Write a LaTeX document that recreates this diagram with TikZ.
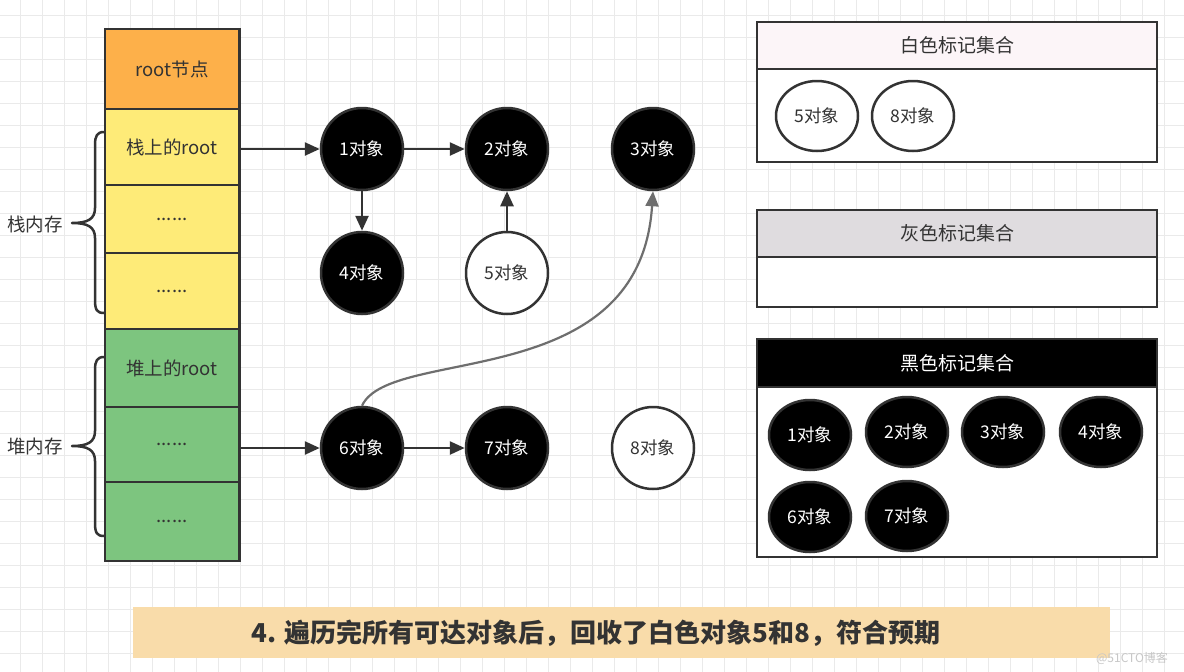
\documentclass[tikz,border=0pt]{standalone}
\usepackage{fontspec}
\setmainfont{Noto Sans CJK SC}
\usetikzlibrary{arrows.meta,shapes.geometric}
\definecolor{ln}{HTML}{333333}
\definecolor{gridc}{HTML}{EAEAEA}
\definecolor{orangec}{HTML}{FDB04A}
\definecolor{yellowc}{HTML}{FEEB78}
\definecolor{greenc}{HTML}{7DC57F}
\definecolor{bannerc}{HTML}{F9DCAA}
\definecolor{pinkc}{HTML}{FCF5F8}
\definecolor{grayh}{HTML}{DFDCDF}
\definecolor{curvec}{HTML}{6E6E6E}
\tikzset{
  gridline/.style={gridc, line width=1pt},
  cell/.style={draw=ln, line width=2.5pt, minimum width=134.5pt, inner sep=0pt, text=ln, font=\fontsize{18.5}{22}\selectfont},
  objb/.style={circle, draw=ln, line width=2.5pt, fill=black, text=white, minimum size=82pt, inner sep=0pt, font=\fontsize{17.5}{20}\selectfont},
  objw/.style={circle, draw=ln, line width=2.5pt, fill=white, text=ln, minimum size=82pt, inner sep=0pt, font=\fontsize{17.5}{20}\selectfont},
  elb/.style={ellipse, draw=ln, line width=2.5pt, fill=black, text=white, minimum width=82pt, minimum height=70pt, inner sep=0pt, font=\fontsize{17.5}{20}\selectfont},
  elw/.style={ellipse, draw=ln, line width=2.5pt, fill=white, text=ln, minimum width=82pt, minimum height=70pt, inner sep=0pt, font=\fontsize{17.5}{20}\selectfont},
  setbox/.style={draw=ln, line width=2.5pt, minimum width=400pt, inner sep=0pt, font=\fontsize{19}{22}\selectfont},
  arr/.style={draw=ln, line width=2.5pt, -{Triangle[length=15pt,width=13pt]}},
  bracec/.style={draw=ln, line width=2.5pt, line cap=round, line join=round},
  lbl/.style={text=ln, inner sep=0pt, font=\fontsize{18.5}{22}\selectfont},
}
\begin{document}
\begin{tikzpicture}[x=1pt,y=-1pt]
\useasboundingbox (0,0) rectangle (1184,672);
\fill[white] (0,0) rectangle (1184,672);
% grid
\foreach \gx in {-2,20,...,1190} \draw[gridline] (\gx,0) -- (\gx,672);
\foreach \gy in {15,37,...,672} \draw[gridline] (0,\gy) -- (1184,\gy);

% memory column
\node[cell, fill=orangec, minimum height=80pt] (r0) at (172,69) {root节点};
\node[cell, fill=yellowc, minimum height=76pt] (r1) at (172,147) {栈上的root};
\node[cell, fill=yellowc, minimum height=68pt] (r2) at (172,219) {......};
\node[cell, fill=yellowc, minimum height=76pt] (r3) at (172,291) {......};
\node[cell, fill=greenc, minimum height=78pt] (r4) at (172,368) {堆上的root};
\node[cell, fill=greenc, minimum height=75pt] (r5) at (172,444.5) {......};
\node[cell, fill=greenc, minimum height=79pt] (r6) at (172,521.5) {......};

% braces
\draw[bracec] (104,132) .. controls (97,132) and (95,136) .. (95,145) -- (95,208) .. controls (95,219) and (88,223) .. (72,223) .. controls (88,223) and (95,227) .. (95,238) -- (95,300) .. controls (95,310) and (97,313) .. (104,313);
\draw[bracec] (104,357) .. controls (97,357) and (95,361) .. (95,370) -- (95,431) .. controls (95,442) and (88,446) .. (72,446) .. controls (88,446) and (95,450) .. (95,461) -- (95,523) .. controls (95,533) and (97,536) .. (104,536);
\node[lbl] (sl) at (35,224) {栈内存};
\node[lbl] (hl) at (35,446) {堆内存};

% objects
\node[objb] (o1) at (362,149) {1对象};
\node[objb] (o2) at (507,149) {2对象};
\node[objb] (o3) at (653,149) {3对象};
\node[objb] (o4) at (362,273) {4对象};
\node[objw] (o5) at (507,273) {5对象};
\node[objb] (o6) at (362,448) {6对象};
\node[objb] (o7) at (507,448) {7对象};
\node[objw] (o8) at (653,448) {8对象};

\draw[arr] (r1.east |- o1.west) -- (o1.west);
\draw[arr] (o1) -- (o2);
\draw[arr] (o1) -- (o4);
\draw[arr] (o5) -- (o2);
\draw[arr] (r5.east |- o6.west) -- (o6.west);
\draw[arr] (o6) -- (o7);
\draw[draw=curvec, line width=2.2pt, -{Triangle[length=15pt,width=13pt]}] (o6.north) .. controls (390,345) and (640,395) .. (o3.south);

% white set
\node[setbox, fill=pinkc, minimum height=47pt, text=ln] (wh) at (957,45.5) {白色标记集合};
\node[setbox, fill=white, minimum height=93pt] (wb) at (957,115.5) {};
\node[elw] (w5) at (817,116) {5对象};
\node[elw] (w8) at (913,116) {8对象};

% gray set
\node[setbox, fill=grayh, minimum height=47pt, text=ln] (gh) at (957,233.5) {灰色标记集合};
\node[setbox, fill=white, minimum height=50pt] (gb) at (957,282) {};

% black set
\node[setbox, fill=black, minimum height=48pt, text=white] (bh) at (957,363) {黑色标记集合};
\node[setbox, fill=white, minimum height=170pt] (bb) at (957,472) {};
\node[elb] (b1) at (810,435) {1对象};
\node[elb] (b2) at (907,432) {2对象};
\node[elb] (b3) at (1003,432) {3对象};
\node[elb] (b4) at (1101,432) {4对象};
\node[elb] (b6) at (810,517) {6对象};
\node[elb] (b7) at (907,516) {7对象};

% banner
\node[fill=bannerc, minimum width=977pt, minimum height=51pt, inner sep=0pt] (banner) at (621.5,632.5) {};
\node[text=ln, inner sep=0pt, font=\fontsize{26}{30}\selectfont\bfseries] (btext) at (596,633) {4. 遍历完所有可达对象后，回收了白色对象5和8，符合预期};
\node[text=black!22, inner sep=0pt, font=\fontsize{12}{14}\selectfont] (wm) at (1132,658) {@51CTO博客};
\end{tikzpicture}
\end{document}
